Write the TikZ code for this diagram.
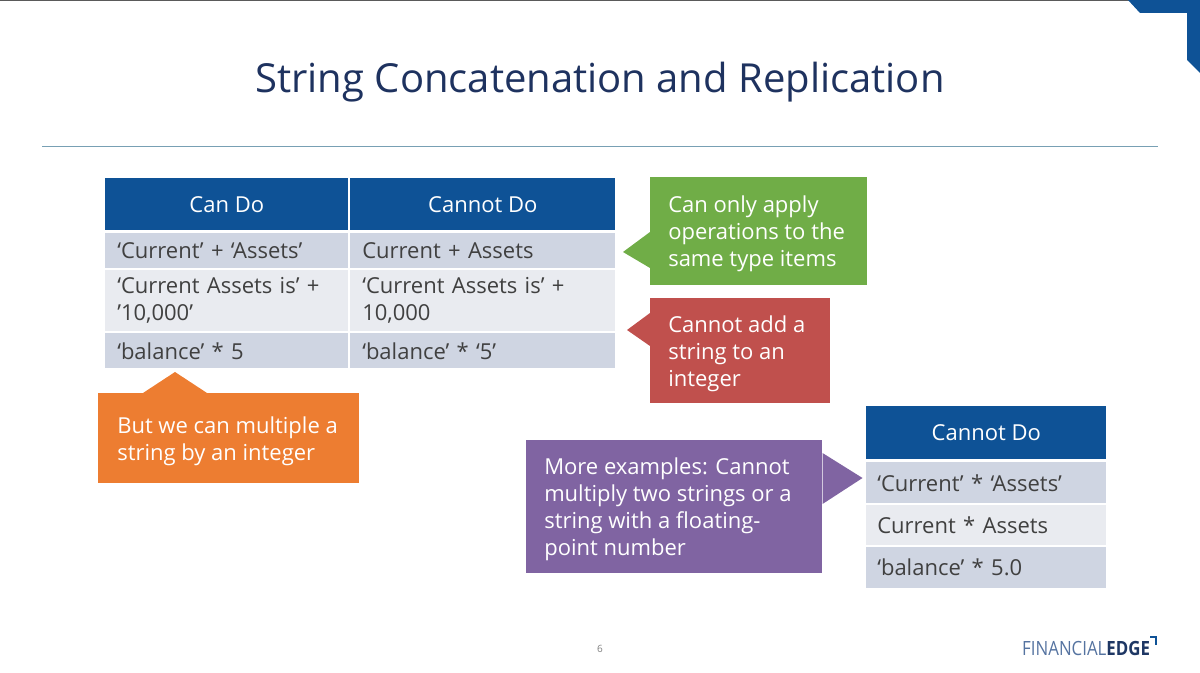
\documentclass[tikz,border=0pt]{standalone}
\usepackage{fontspec}
\setmainfont{Open Sans}
\definecolor{hdblue}{RGB}{14,82,150}
\definecolor{rowdark}{RGB}{207,213,226}
\definecolor{rowlight}{RGB}{233,235,240}
\definecolor{celltext}{RGB}{64,64,64}
\definecolor{titleblue}{RGB}{30,50,95}
\definecolor{rulecol}{RGB}{120,160,180}
\definecolor{topgray}{RGB}{90,90,90}
\definecolor{calgreen}{RGB}{112,173,71}
\definecolor{calred}{RGB}{192,80,77}
\definecolor{calorange}{RGB}{237,125,49}
\definecolor{calpurple}{RGB}{128,100,162}
\definecolor{logolight}{RGB}{85,115,160}
\definecolor{logodark}{RGB}{30,55,100}
\begin{document}
\begin{tikzpicture}[x=0.75pt,y=-0.75pt,
  every node/.style={font=\fontsize{16.5}{20.25}\selectfont},
  head/.style={fill=hdblue,text=white,inner sep=0pt,anchor=north west,minimum height=39pt},
  cell/.style={anchor=north west,inner xsep=9pt,inner ysep=0pt,align=left,text=celltext},
  rowa/.style={fill=rowdark},
  rowb/.style={fill=rowlight},
  callbox/.style={anchor=north west,inner sep=0pt},
  calltext/.style={anchor=west,align=left,text=white,inner sep=0pt,yshift=-2.25pt}]

\useasboundingbox (0,0) rectangle (1200,673);

\fill[topgray] (0,0) rectangle (1200,1.5);
\fill[hdblue] (1128,0) -- (1200,0) -- (1200,73) -- (1187,60) -- (1187,13) -- (1140,13) -- cycle;

\node[anchor=base,font=\fontsize{30}{36}\selectfont,text=titleblue] (title) at (600,93) {String Concatenation and Replication};
\draw[rulecol,line width=0.75pt] (42,147) -- (1158,147);

% first table
\node[head,minimum width=182.25pt] (hcan) at (105,178) {Can Do};
\node[head,minimum width=198.75pt] (hcannot) at (350,178) {Cannot Do};

\node[cell,rowa,text width=164.25pt,minimum height=26.25pt] (can1) at (105,233) {‘Current’ + ‘Assets’};
\node[cell,rowa,text width=180.75pt,minimum height=26.25pt] (cannot1) at (350,233) {Current + Assets};
\node[cell,rowb,text width=164.25pt,minimum height=45.75pt] (can2) at (105,270) {‘Current Assets is’ +\\’10,000’};
\node[cell,rowb,text width=180.75pt,minimum height=45.75pt] (cannot2) at (350,270) {‘Current Assets is’ +\\10,000};
\node[cell,rowa,text width=164.25pt,minimum height=26.25pt] (can3) at (105,333) {‘balance’ * 5};
\node[cell,rowa,text width=180.75pt,minimum height=26.25pt] (cannot3) at (350,333) {‘balance’ * ‘5’};

% second table
\node[head,minimum width=180pt,minimum height=39.75pt] (hmore) at (866,406) {Cannot Do};
\node[cell,rowa,inner xsep=8.25pt,text width=163.5pt,minimum height=30.75pt] (more1) at (866,462) {‘Current’ * ‘Assets’};
\node[cell,rowb,inner xsep=8.25pt,text width=163.5pt,minimum height=30pt] (more2) at (866,505) {Current * Assets};
\node[cell,rowa,inner xsep=8.25pt,text width=163.5pt,minimum height=30.75pt] (more3) at (866,547) {‘balance’ * 5.0};

% callouts
\node[callbox,fill=calgreen,minimum width=162.75pt,minimum height=81pt] (cgreen) at (650,177) {};
\fill[calgreen] (cgreen.north west)++(0,55) -- ++(-27,20) -- ++(27,16) -- cycle;
\node[calltext] (tgreen) at ([xshift=13.5pt]cgreen.west) {Can only apply\\operations to the\\same type items};

\node[callbox,fill=calred,minimum width=135pt,minimum height=78.75pt] (cred) at (650,298) {};
\fill[calred] (cred.north west)++(0,15) -- ++(-23,17) -- ++(23,16) -- cycle;
\node[calltext] (tred) at ([xshift=13.5pt]cred.west) {Cannot add a\\string to an\\integer};

\node[callbox,fill=calorange,minimum width=195.75pt,minimum height=67.5pt] (corange) at (98,393) {};
\fill[calorange] (corange.north west)++(45,0) -- ++(32,-21) -- ++(32,21) -- cycle;
\node[calltext] (torange) at ([xshift=14.25pt]corange.west) {But we can multiple a\\string by an integer};

\node[callbox,fill=calpurple,minimum width=222pt,minimum height=99.75pt] (cpurple) at (526,440) {};
\fill[calpurple] (cpurple.north east)++(0,13) -- ++(40,25) -- ++(-40,26) -- cycle;
\node[calltext] (tpurple) at ([xshift=13.5pt]cpurple.west) {More examples: Cannot\\multiply two strings or a\\string with a floating-\\point number};

% footer
\node[text=gray,font=\fontsize{7.5}{9}\selectfont] (pnum) at (600,649) {6};
\node[anchor=base west,xscale=0.86,inner sep=0pt,font=\fontsize{14.7}{16}\selectfont] (logo) at (1022,655) {\color{logolight}FINANCIAL\color{logodark}\bfseries EDGE};
\draw[hdblue,line width=1pt] (1150,637) -- (1156,637) -- (1156,645);

\end{tikzpicture}
\end{document}
